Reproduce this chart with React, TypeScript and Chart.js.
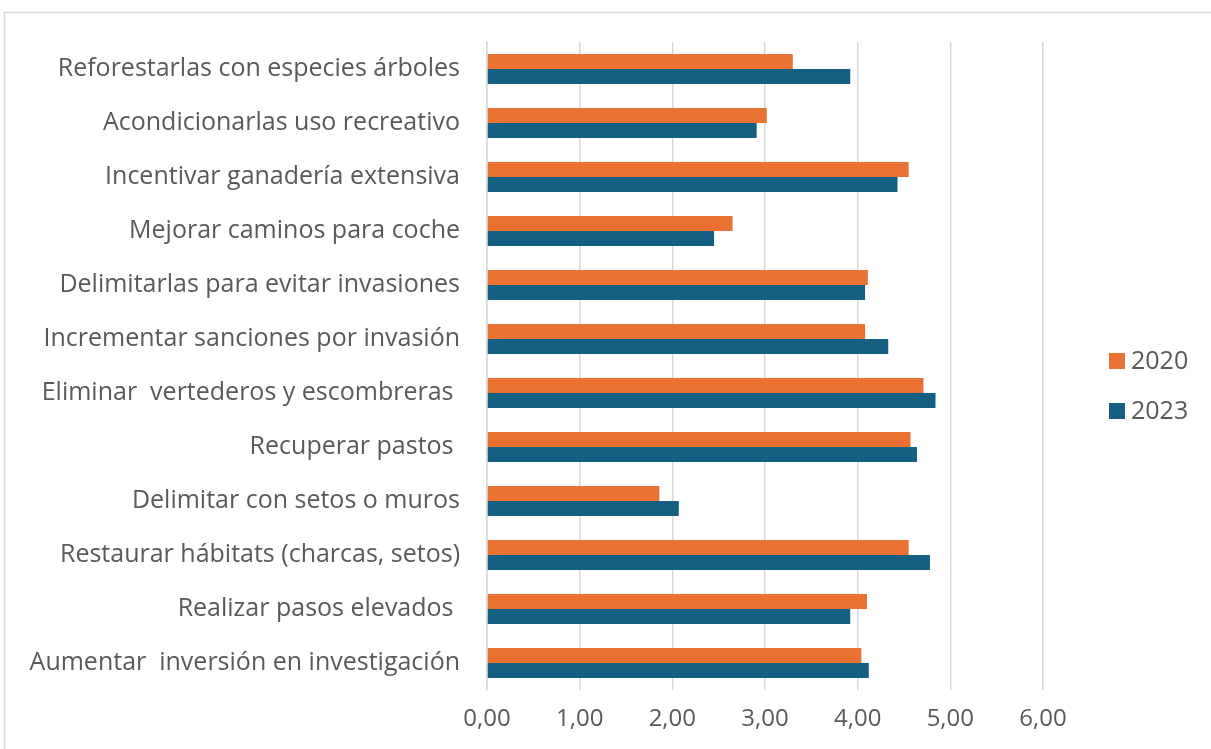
import React, { useEffect, useRef } from "react";
import { Chart, registerables } from "chart.js";

Chart.register(...registerables);

const categories = [
  "Reforestarlas con especies árboles",
  "Acondicionarlas uso recreativo",
  "Incentivar ganadería extensiva",
  "Mejorar caminos para coche",
  "Delimitarlas para evitar invasiones",
  "Incrementar sanciones por invasión",
  "Eliminar  vertederos y escombreras ",
  "Recuperar pastos ",
  "Delimitar con setos o muros",
  "Restaurar hábitats (charcas, setos)",
  "Realizar pasos elevados ",
  "Aumentar  inversión en investigación",
];

const values2020 = [3.3, 3.02, 4.55, 2.65, 4.11, 4.08, 4.71, 4.57, 1.86, 4.55, 4.1, 4.04];
const values2023 = [3.92, 2.91, 4.43, 2.45, 4.08, 4.33, 4.84, 4.64, 2.07, 4.78, 3.92, 4.12];

const seriesLabels = ["2020", "2023"];
const seriesColors = ["#E97132", "#156082"];

const xMin = 0;
const xMax = 6;
const xStep = 1;

const FONT = "'Open Sans', 'Liberation Sans', Arial, sans-serif";
const TEXT = "#595959";
const GRID = "#d9d9d9";

const framePlugin = {
  id: "frame",
  beforeDraw(chart: any) {
    const ctx = chart.ctx;
    ctx.save();
    ctx.strokeStyle = GRID;
    ctx.lineWidth = 1.5;
    ctx.strokeRect(4.5, 12.5, 1400, 900);
    ctx.restore();
  },
};

const legendPlugin = {
  id: "sideLegend",
  afterDraw(chart: any) {
    const ctx = chart.ctx;
    ctx.save();
    ctx.font = `25px ${FONT}`;
    ctx.textBaseline = "middle";
    ctx.textAlign = "left";
    chart.data.datasets.forEach((ds: any, i: number) => {
      const y = 361 + i * 50;
      ctx.fillStyle = ds.backgroundColor;
      ctx.fillRect(1109, y - 8, 16, 16);
      ctx.fillStyle = TEXT;
      ctx.fillText(ds.label, 1131, y + 1);
    });
    ctx.restore();
  },
};

export default function App() {
  const canvasRef = useRef<HTMLCanvasElement | null>(null);

  useEffect(() => {
    if (!canvasRef.current) return;
    const chart = new Chart(canvasRef.current, {
      type: "bar",
      data: {
        labels: categories,
        datasets: [
          {
            label: seriesLabels[0],
            data: values2020,
            backgroundColor: seriesColors[0],
            borderWidth: 0,
            barPercentage: 1,
            categoryPercentage: 0.56,
          },
          {
            label: seriesLabels[1],
            data: values2023,
            backgroundColor: seriesColors[1],
            borderWidth: 0,
            barPercentage: 1,
            categoryPercentage: 0.56,
          },
        ],
      },
      options: {
        indexAxis: "y",
        animation: false,
        responsive: true,
        maintainAspectRatio: false,
        layout: { padding: { left: 0, right: 168, top: 36, bottom: 0 } },
        plugins: {
          legend: { display: false },
          tooltip: { enabled: false },
          title: { display: false },
        },
        scales: {
          x: {
            min: xMin,
            max: xMax,
            ticks: {
              stepSize: xStep,
              color: TEXT,
              font: { family: FONT, size: 24 },
              padding: 15,
              callback: (v: any) => Number(v).toFixed(2).replace(".", ","),
            },
            grid: { color: GRID, lineWidth: 1.5, drawTicks: false },
            border: { display: false },
            afterFit: (scale: any) => {
              scale.height = 59;
            },
          },
          y: {
            ticks: {
              color: TEXT,
              font: { family: FONT, size: 25 },
              padding: 27,
            },
            grid: { display: false, drawTicks: false },
            border: { display: true, color: GRID, width: 1.5 },
            afterFit: (scale: any) => {
              scale.width = 487;
            },
          },
        },
      },
      plugins: [framePlugin, legendPlugin],
    });
    return () => chart.destroy();
  }, []);

  return (
    <div style={{ position: "fixed", left: 0, top: 0, width: 1211, height: 749, background: "#fff" }}>
      <canvas ref={canvasRef} />
    </div>
  );
}
